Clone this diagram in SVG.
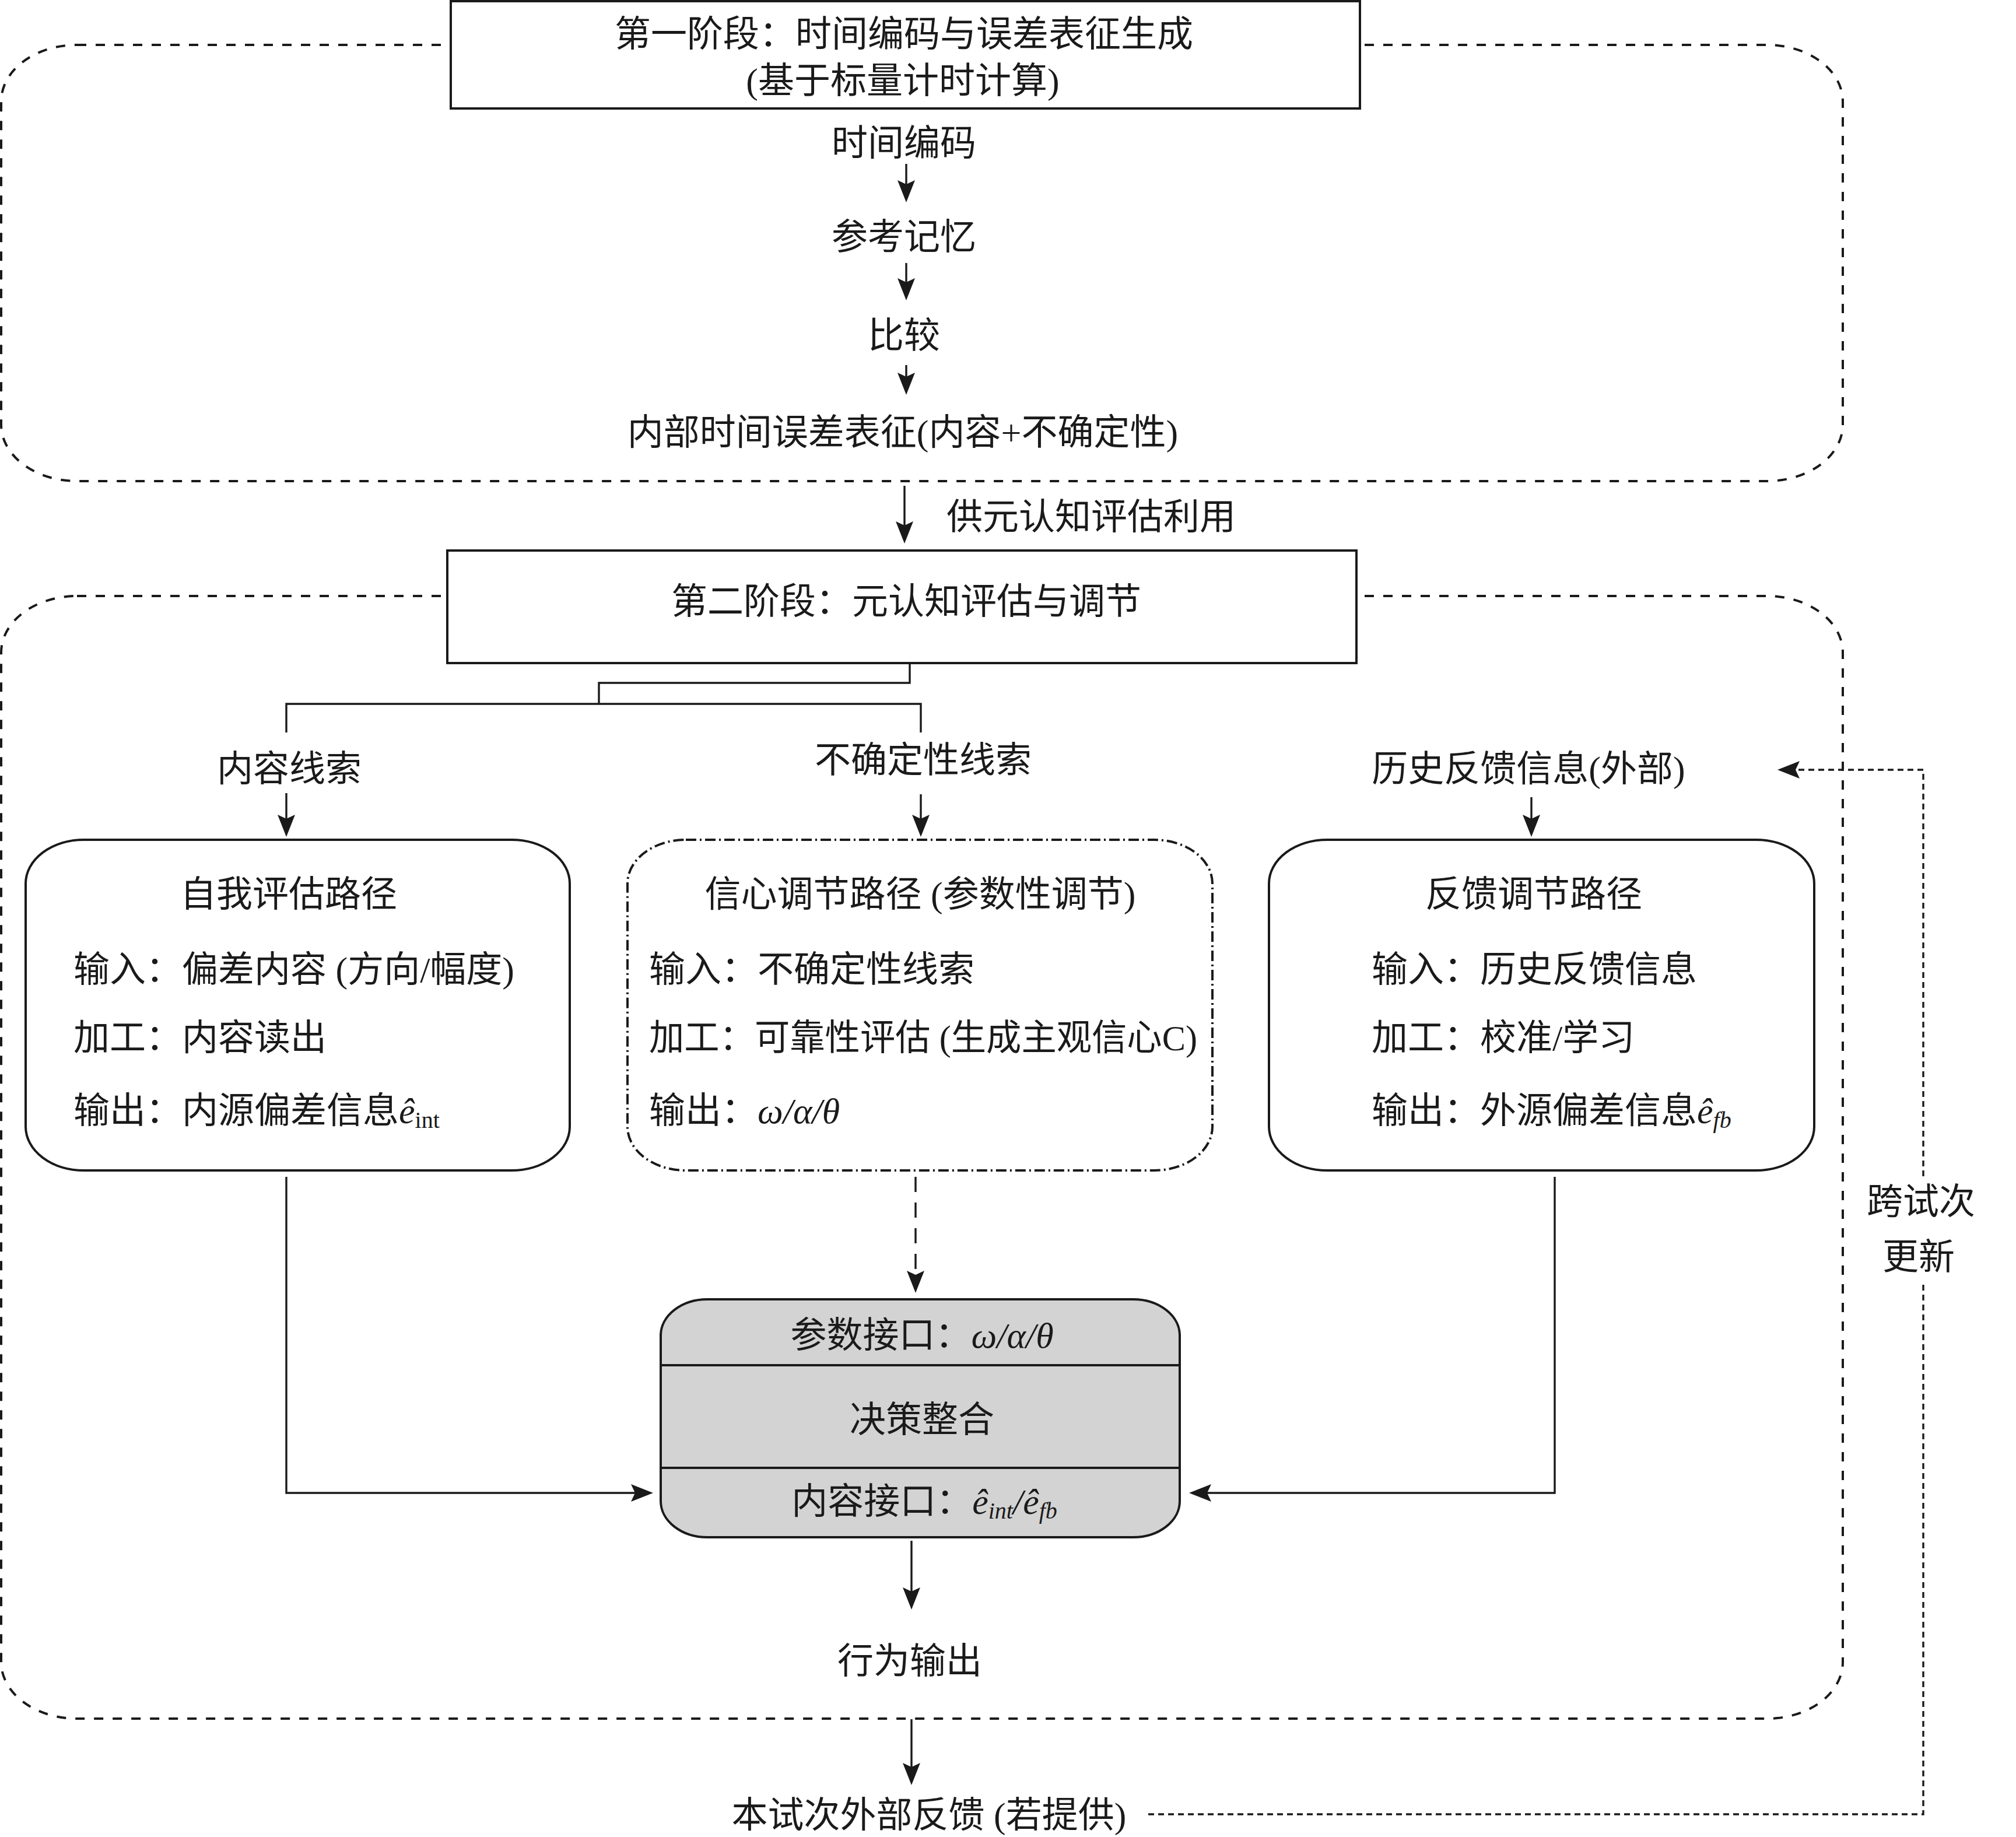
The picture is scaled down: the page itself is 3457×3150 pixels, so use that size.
<svg xmlns="http://www.w3.org/2000/svg" width="3457" height="3150" viewBox="0 0 3457 3150">
<defs>
<style>
text{font-family:"Liberation Serif","Noto Sans CJK SC",serif;font-size:62px;fill:#1a1a1a}
.c{text-anchor:middle}
.box{fill:#fff;stroke:#1a1a1a;stroke-width:4}
.conn{fill:none;stroke:#1a1a1a;stroke-width:3.4}
.arr{marker-end:url(#ah)}
.frame{fill:none;stroke:#1a1a1a;stroke-width:4;stroke-dasharray:16 16}
.dot{stroke-dasharray:10 7}
.dash{stroke-dasharray:26 18}
.it{font-style:italic}
.sub{font-size:40px}
</style>
<marker id="ah" markerUnits="userSpaceOnUse" viewBox="-22 -16 44 32" refX="0" refY="0" markerWidth="44" markerHeight="32" orient="auto">
<path d="M20,0 L-18,-15 L-11,0 L-18,15 Z" fill="#1a1a1a"/>
</marker>
</defs>
<g id="frames">
<rect class="frame" x="2" y="77" width="3158" height="748" rx="130" ry="97"/>
<rect class="frame" x="2" y="1022" width="3158" height="1925" rx="130" ry="97"/>
</g>
<g id="stage1">
<rect class="box" x="773" y="2" width="1559" height="184"/>
<text class="c" x="1550" y="80">第一阶段：时间编码与误差表征生成</text>
<text class="c" x="1548" y="160">(基于标量计时计算)</text>
</g>
<g id="n-encode"><text class="c" x="1550" y="267">时间编码</text></g>
<g id="n-memory"><text class="c" x="1550" y="428">参考记忆</text></g>
<g id="n-compare"><text class="c" x="1550" y="597">比较</text></g>
<g id="n-repr"><text class="c" x="1548" y="763">内部时间误差表征(内容+不确定性)</text></g>
<g id="n-use"><text x="1623" y="908">供元认知评估利用</text></g>
<g id="stage2">
<rect class="box" x="767" y="944" width="1559" height="193"/>
<text class="c" x="1554" y="1053">第二阶段：元认知评估与调节</text>
</g>
<g id="n-content-cue"><text class="c" x="496" y="1340">内容线索</text></g>
<g id="n-unc-cue"><text class="c" x="1583" y="1325">不确定性线索</text></g>
<g id="n-hist"><text class="c" x="2621" y="1340">历史反馈信息(外部)</text></g>
<g id="n-self">
<rect class="box" x="44" y="1440" width="933" height="567" rx="100" ry="75"/>
<text class="c" x="495" y="1555">自我评估路径</text>
<text x="126" y="1684">输入：偏差内容 (方向/幅度)</text>
<text x="126" y="1801">加工：内容读出</text>
<text x="126" y="1926">输出：内源偏差信息<tspan class="it">ê</tspan><tspan class="sub" dy="8">int</tspan></text>
</g>
<g id="n-conf">
<rect class="box" x="1076" y="1440" width="1003" height="567" rx="100" ry="75" style="stroke-dasharray:18 6 3 6"/>
<text class="c" x="1578" y="1555">信心调节路径 (参数性调节)</text>
<text x="1113" y="1684">输入：不确定性线索</text>
<text x="1113" y="1801" textLength="940" lengthAdjust="spacingAndGlyphs">加工：可靠性评估 (生成主观信心C)</text>
<text x="1113" y="1926">输出：<tspan class="it">ω/α/θ</tspan></text>
</g>
<g id="n-fb">
<rect class="box" x="2176" y="1440" width="935" height="567" rx="100" ry="75"/>
<text class="c" x="2630" y="1555">反馈调节路径</text>
<text x="2352" y="1684">输入：历史反馈信息</text>
<text x="2352" y="1801">加工：校准/学习</text>
<text x="2352" y="1926">输出：外源偏差信息<tspan class="it">ê</tspan><tspan class="it sub" dy="8">fb</tspan></text>
</g>
<g id="n-decision">
<rect x="1133" y="2228" width="890" height="408" rx="80" ry="62" fill="#d3d3d3" stroke="#1a1a1a" stroke-width="4"/>
<line x1="1133" y1="2341" x2="2023" y2="2341" stroke="#1a1a1a" stroke-width="4"/>
<line x1="1133" y1="2517" x2="2023" y2="2517" stroke="#1a1a1a" stroke-width="4"/>
<text class="c" x="1581" y="2311">参数接口：<tspan class="it">ω/α/θ</tspan></text>
<text class="c" x="1581" y="2456">决策整合</text>
<text class="c" x="1585" y="2596">内容接口：<tspan class="it">ê</tspan><tspan class="it sub" dy="8">int</tspan><tspan class="it" dy="-8">/ê</tspan><tspan class="it sub" dy="8">fb</tspan></text>
</g>
<g id="n-behav"><text class="c" x="1560" y="2870">行为输出</text></g>
<g id="n-extfb"><text class="c" x="1593" y="3134">本试次外部反馈 (若提供)</text></g>
<g id="n-update">
<text class="c" x="3294" y="2082">跨试次</text>
<text class="c" x="3290" y="2177">更新</text>
</g>
<g id="connectors">
<path class="conn arr" d="M1554,281 V327"/>
<path class="conn arr" d="M1554,451 V495"/>
<path class="conn arr" d="M1554,626 V657"/>
<path class="conn arr" d="M1551,833 V912"/>
<path class="conn" d="M1560,1137 V1171 H1027 V1207"/>
<path class="conn" d="M491,1256 V1207 H1579 V1256"/>
<path class="conn arr" d="M491,1360 V1415"/>
<path class="conn arr" d="M1579,1362 V1415"/>
<path class="conn arr" d="M2626,1367 V1415"/>
<path class="conn arr dash" d="M1570,2018 V2197"/>
<path class="conn arr" d="M491,2018 V2560 H1100"/>
<path class="conn arr" d="M2666,2018 V2560 H2059"/>
<path class="conn arr" d="M1563,2642 V2740"/>
<path class="conn arr" d="M1563,2948 V3041"/>
<path class="conn dot" d="M1969,3111 H3298 V2200"/>
<path class="conn dot arr" d="M3298,2017 V1320 H3068"/>
</g>
</svg>
